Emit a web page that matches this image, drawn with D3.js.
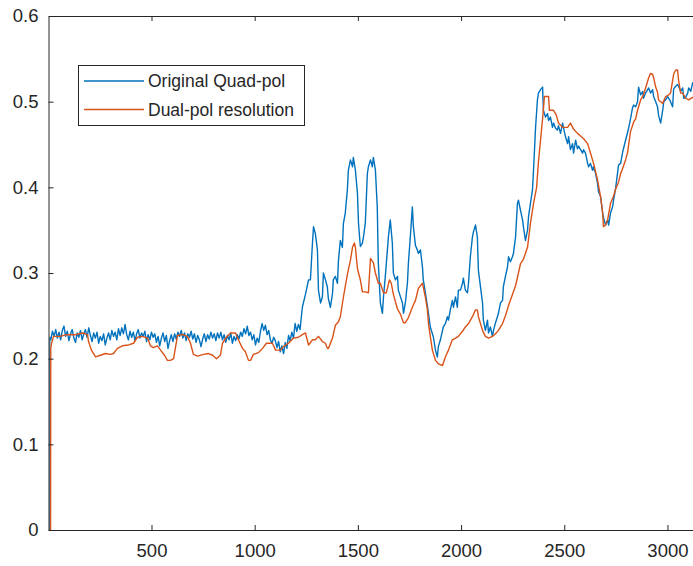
<!DOCTYPE html>
<html>
<head>
<meta charset="utf-8">
<script src="https://cdn.jsdelivr.net/npm/d3@7"></script>
<style>
  body { margin: 0; background: #fff; }
  text { font-family: "Liberation Sans", Arial, Helvetica, sans-serif; fill: #262626; }
</style>
</head>
<body>
<svg id="chart" width="693" height="566"></svg>
<script>
// series names
const seriesNames = ["Original Quad-pol", "Dual-pol resolution"];
const xTicks = [500, 1000, 1500, 2000, 2500, 3000];
const yTicks = [0, 0.1, 0.2, 0.3, 0.4, 0.5, 0.6];

// Original Quad-pol (blue)
const quadX = [6, 7,
  12, 20, 28, 36, 44, 52, 60, 68, 76, 84,
  92, 100, 108, 116, 124, 132, 140, 148, 156, 164,
  172, 180, 188, 196, 204, 212, 220, 228, 236, 244,
  252, 260, 268, 276, 284, 292, 300, 308, 316, 324,
  332, 340, 348, 356, 364, 372, 380, 388, 396, 404,
  412, 420, 428, 436, 444, 452, 460, 468, 476, 484,
  492, 500, 508, 516, 524, 532, 540, 548, 556, 564,
  572, 580, 588, 596, 604, 612, 620, 628, 636, 644,
  652, 660, 668, 676, 684, 692, 700, 708, 716, 724,
  732, 740, 748, 756, 764, 772, 780, 788, 796, 804,
  812, 820, 828, 836, 844, 852, 860, 868, 876, 884,
  892, 900, 908, 916, 924, 932, 940, 948, 956, 964,
  972, 980, 988, 996, 1004, 1012, 1020, 1028, 1036, 1044,
  1052, 1060, 1068, 1076, 1084, 1092, 1100, 1108, 1116, 1124,
  1132, 1140, 1148, 1156, 1164, 1172, 1180, 1188, 1196, 1204,
  1212, 1220,
  1231, 1246, 1261, 1270, 1280, 1285, 1294, 1304, 1309, 1319, 1328, 1333, 1343, 1352, 1357, 1367, 1377, 1381, 1391, 1401, 1406, 1415, 1425, 1430, 1439, 1449, 1454, 1464, 1474, 1478, 1488, 1498, 1503, 1512, 1522, 1527, 1536, 1546, 1551, 1561, 1570, 1575, 1585, 1594, 1599, 1609, 1619, 1624, 1633, 1643, 1648, 1657, 1667, 1672, 1682, 1692, 1696, 1716, 1721, 1730, 1740, 1745, 1754, 1764, 1769, 1779, 1788, 1793, 1803, 1813, 1817, 1827, 1842, 1851, 1866, 1876, 1885, 1890, 1900, 1910, 1914, 1924, 1934, 1939, 1948, 1958, 1963, 1973, 1982, 1987, 1997, 2007, 2011, 2021, 2031, 2036, 2045, 2055, 2060, 2070, 2079, 2084, 2094, 2104, 2108, 2118, 2128, 2133, 2142, 2152, 2157, 2167, 2176, 2181, 2191, 2201, 2205, 2215, 2225, 2230, 2239, 2249, 2254, 2264, 2273, 2278, 2288, 2298, 2302, 2312, 2322, 2327, 2336, 2346, 2351, 2361, 2370, 2375, 2385, 2395, 2399, 2409, 2419, 2424, 2433, 2443, 2448, 2458, 2467, 2472, 2482, 2492, 2496, 2506, 2516, 2521, 2530, 2540, 2545, 2555, 2564, 2569, 2579, 2589, 2593, 2603, 2613, 2618, 2627, 2637, 2642, 2652, 2661, 2666, 2676, 2686, 2690, 2700, 2710, 2715, 2724, 2734, 2739, 2749, 2763, 2773, 2783, 2797, 2812, 2821, 2831, 2836, 2846, 2855, 2860, 2870, 2880, 2884, 2894, 2904, 2909, 2918, 2928, 2933, 2943, 2952, 2957, 2967, 2977, 2982, 2991, 3001, 3006, 3015, 3025, 3030, 3040, 3049, 3054, 3064, 3074, 3079, 3088, 3098, 3103, 3113, 3122, 3150, 3180];
const quadY = [0, 0.225,
  0.222, 0.232, 0.226, 0.234, 0.224, 0.231, 0.222, 0.233, 0.238, 0.226,
  0.232, 0.221, 0.229, 0.234, 0.224, 0.219, 0.23, 0.225, 0.233, 0.222,
  0.229, 0.234, 0.225, 0.236, 0.227, 0.22, 0.23, 0.224, 0.231, 0.218,
  0.226, 0.221, 0.229, 0.216, 0.224, 0.23, 0.222, 0.233, 0.226, 0.231,
  0.222, 0.235, 0.227, 0.236, 0.229, 0.24, 0.228, 0.222, 0.232, 0.225,
  0.231, 0.221, 0.229, 0.234, 0.224, 0.23, 0.226, 0.232, 0.22, 0.228,
  0.222, 0.231, 0.225, 0.229, 0.219, 0.226, 0.215, 0.224, 0.23, 0.22,
  0.227, 0.212, 0.221, 0.228, 0.22, 0.229, 0.223, 0.231, 0.226, 0.233,
  0.224, 0.23, 0.221, 0.229, 0.225, 0.232, 0.223, 0.229, 0.219, 0.227,
  0.222, 0.214, 0.223, 0.229, 0.22, 0.228, 0.223, 0.231, 0.224, 0.229,
  0.221, 0.23, 0.224, 0.231, 0.222, 0.228, 0.219, 0.227, 0.222, 0.23,
  0.218, 0.226, 0.221, 0.228, 0.223, 0.231, 0.226, 0.235, 0.229, 0.238,
  0.227, 0.231, 0.222, 0.228, 0.216, 0.224, 0.219, 0.232, 0.241, 0.233,
  0.239, 0.228, 0.233, 0.222, 0.218, 0.225, 0.221, 0.213, 0.22, 0.208,
  0.215, 0.206, 0.219, 0.212, 0.227, 0.221, 0.231, 0.224, 0.241, 0.232,
  0.24, 0.234,
  0.26, 0.275, 0.292, 0.292, 0.335, 0.354, 0.346, 0.327, 0.28, 0.265, 0.272, 0.3, 0.292, 0.284, 0.27, 0.26, 0.276, 0.292, 0.296, 0.288, 0.315, 0.338, 0.33, 0.358, 0.37, 0.397, 0.42, 0.432, 0.424, 0.435, 0.42, 0.393, 0.358, 0.331, 0.335, 0.342, 0.358, 0.416, 0.424, 0.432, 0.424, 0.435, 0.42, 0.377, 0.312, 0.265, 0.253, 0.272, 0.296, 0.327, 0.342, 0.362, 0.335, 0.3, 0.292, 0.296, 0.28, 0.265, 0.253, 0.265, 0.288, 0.312, 0.342, 0.377, 0.354, 0.332, 0.327, 0.323, 0.327, 0.307, 0.292, 0.277, 0.253, 0.237, 0.225, 0.21, 0.202, 0.214, 0.222, 0.233, 0.237, 0.241, 0.249, 0.245, 0.257, 0.268, 0.26, 0.272, 0.26, 0.28, 0.28, 0.288, 0.294, 0.28, 0.277, 0.288, 0.319, 0.342, 0.348, 0.356, 0.342, 0.303, 0.284, 0.265, 0.245, 0.233, 0.245, 0.23, 0.237, 0.226, 0.233, 0.242, 0.249, 0.253, 0.265, 0.268, 0.284, 0.296, 0.307, 0.319, 0.313, 0.319, 0.323, 0.342, 0.381, 0.385, 0.373, 0.362, 0.354, 0.338, 0.35, 0.366, 0.381, 0.397, 0.42, 0.47, 0.502, 0.51, 0.514, 0.517, 0.49, 0.482, 0.486, 0.478, 0.482, 0.47, 0.475, 0.469, 0.467, 0.472, 0.463, 0.475, 0.47, 0.459, 0.451, 0.459, 0.444, 0.451, 0.44, 0.455, 0.445, 0.448, 0.444, 0.44, 0.444, 0.44, 0.428, 0.424, 0.428, 0.42, 0.424, 0.416, 0.405, 0.395, 0.389, 0.37, 0.365, 0.356, 0.362, 0.356, 0.37, 0.377, 0.385, 0.399, 0.426, 0.428, 0.441, 0.455, 0.469, 0.48, 0.493, 0.496, 0.494, 0.5, 0.517, 0.508, 0.512, 0.504, 0.51, 0.514, 0.516, 0.51, 0.514, 0.506, 0.5, 0.494, 0.484, 0.475, 0.49, 0.5, 0.502, 0.506, 0.504, 0.5, 0.494, 0.515, 0.518, 0.52, 0.518, 0.512, 0.516, 0.504, 0.505, 0.51, 0.516, 0.512, 0.522, 0.512, 0.515];

// Dual-pol resolution (orange)
const dualX = [11, 12, 16, 25, 59, 88, 132, 166, 190, 195, 209, 229, 253, 277, 301, 316, 335, 359, 389, 413, 432, 456, 481, 495, 509, 529, 544, 563, 577, 592, 607, 626, 650, 674, 689, 703, 723, 752, 776, 796, 815, 834, 844, 863, 883, 907, 921, 941, 955, 970, 980, 994, 1018, 1038, 1057, 1086, 1101, 1125, 1139, 1164, 1188, 1212, 1231, 1246, 1261, 1280, 1294, 1309, 1328, 1343, 1352, 1357, 1377, 1391, 1406, 1415, 1430, 1449, 1464, 1474, 1483, 1488, 1498, 1512, 1522, 1536, 1551, 1561, 1575, 1585, 1599, 1609, 1624, 1638, 1653, 1662, 1672, 1692, 1706, 1721, 1730, 1745, 1764, 1779, 1793, 1813, 1827, 1837, 1842, 1851, 1861, 1876, 1890, 1910, 1924, 1939, 1958, 1973, 1987, 2007, 2021, 2036, 2055, 2070, 2079, 2084, 2104, 2118, 2133, 2152, 2167, 2181, 2201, 2215, 2230, 2249, 2264, 2278, 2288, 2302, 2322, 2336, 2351, 2366, 2375, 2385, 2395, 2404, 2424, 2428, 2448, 2462, 2472, 2492, 2516, 2530, 2545, 2564, 2579, 2593, 2613, 2627, 2642, 2661, 2676, 2686, 2690, 2700, 2710, 2724, 2739, 2749, 2763, 2773, 2783, 2797, 2807, 2821, 2836, 2846, 2855, 2870, 2884, 2894, 2909, 2918, 2928, 2933, 2943, 2952, 2957, 2967, 2977, 2991, 3006, 3015, 3030, 3040, 3049, 3054, 3064, 3074, 3088, 3103, 3122, 3150, 3180];
const dualY = [0, 0.212, 0.218, 0.226, 0.226, 0.228, 0.228, 0.23, 0.228, 0.22, 0.21, 0.202, 0.204, 0.206, 0.205, 0.206, 0.212, 0.215, 0.216, 0.218, 0.225, 0.226, 0.224, 0.215, 0.213, 0.215, 0.21, 0.204, 0.198, 0.198, 0.2, 0.227, 0.228, 0.226, 0.218, 0.205, 0.203, 0.205, 0.206, 0.204, 0.2, 0.204, 0.218, 0.225, 0.23, 0.23, 0.222, 0.212, 0.208, 0.198, 0.198, 0.205, 0.207, 0.212, 0.218, 0.218, 0.21, 0.21, 0.214, 0.218, 0.224, 0.225, 0.228, 0.23, 0.216, 0.222, 0.222, 0.226, 0.22, 0.218, 0.212, 0.212, 0.224, 0.239, 0.243, 0.249, 0.272, 0.298, 0.315, 0.33, 0.335, 0.33, 0.305, 0.292, 0.278, 0.278, 0.277, 0.317, 0.312, 0.3, 0.288, 0.288, 0.277, 0.277, 0.292, 0.288, 0.275, 0.258, 0.252, 0.242, 0.242, 0.248, 0.26, 0.268, 0.282, 0.288, 0.272, 0.257, 0.241, 0.226, 0.21, 0.198, 0.194, 0.192, 0.202, 0.21, 0.222, 0.224, 0.226, 0.232, 0.237, 0.241, 0.249, 0.257, 0.257, 0.249, 0.233, 0.226, 0.224, 0.226, 0.229, 0.233, 0.241, 0.25, 0.262, 0.275, 0.285, 0.3, 0.311, 0.316, 0.33, 0.358, 0.381, 0.4, 0.43, 0.455, 0.48, 0.506, 0.506, 0.49, 0.49, 0.484, 0.475, 0.47, 0.47, 0.475, 0.468, 0.463, 0.46, 0.457, 0.451, 0.44, 0.428, 0.409, 0.389, 0.37, 0.354, 0.356, 0.362, 0.381, 0.39, 0.398, 0.406, 0.416, 0.422, 0.432, 0.441, 0.465, 0.476, 0.48, 0.49, 0.502, 0.508, 0.516, 0.528, 0.533, 0.532, 0.528, 0.517, 0.511, 0.502, 0.5, 0.498, 0.506, 0.508, 0.51, 0.532, 0.537, 0.537, 0.525, 0.51, 0.51, 0.504, 0.502, 0.505, 0.505, 0.51];

const colors = ["#0072BD", "#D95319"];

const svg = d3.select("#chart");
const plotLeft = 48.5, plotRight = 704.6, plotTop = 16, plotBottom = 530;

const x = d3.scaleLinear().domain([1, 3180]).range([plotLeft, plotRight]);
const y = d3.scaleLinear().domain([0, 0.6]).range([plotBottom, plotTop]);

svg.append("clipPath").attr("id", "clip")
  .append("rect").attr("x", plotLeft).attr("y", plotTop)
  .attr("width", plotRight - plotLeft).attr("height", plotBottom - plotTop);

const line = d3.line()
  .defined(d => d[1] !== undefined && d[0] !== undefined)
  .x(d => x(d[0])).y(d => y(d[1]));

const quad = quadX.map((v, i) => [v, quadY[i]]);
const dual = dualX.map((v, i) => [v, dualY[i]]);

const plot = svg.append("g").attr("clip-path", "url(#clip)");
[quad, dual].forEach((s, i) => {
  plot.append("path").datum(s)
    .attr("d", line)
    .attr("fill", "none")
    .attr("stroke", colors[i])
    .attr("stroke-width", 1.4)
    .attr("stroke-linejoin", "round");
});

// axes, matlab style with ticks inside
const axBottom = svg.append("g").attr("transform", `translate(0,${plotBottom})`)
  .call(d3.axisBottom(x).tickValues(xTicks).tickSizeInner(-5).tickSizeOuter(0).tickPadding(14).tickFormat(d3.format("d")));
const axTop = svg.append("g").attr("transform", `translate(0,${plotTop})`)
  .call(d3.axisTop(x).tickValues(xTicks).tickSizeInner(-5).tickSizeOuter(0).tickFormat(""));
const axLeft = svg.append("g").attr("transform", `translate(${plotLeft},0)`)
  .call(d3.axisLeft(y).tickValues(yTicks).tickSizeInner(-5).tickSizeOuter(0).tickPadding(10).tickFormat(d3.format("")));

[axBottom, axTop, axLeft].forEach(a => {
  a.select(".domain").attr("stroke", "#262626");
  a.selectAll(".tick line").attr("stroke", "#262626");
  a.selectAll(".tick text").style("font-size", "18.5px").attr("fill", "#262626");
});
axLeft.select(".domain").attr("stroke", "#5a5a5a").attr("stroke-width", 1.3);

// legend
const lg = svg.append("g");
lg.append("rect").attr("x", 78.5).attr("y", 65.5).attr("width", 226).attr("height", 60)
  .attr("fill", "#fff").attr("stroke", "#262626").attr("stroke-width", 1);
seriesNames.forEach((name, i) => {
  const yy = 81 + i * 28.5;
  lg.append("line").attr("x1", 84).attr("x2", 144).attr("y1", yy).attr("y2", yy)
    .attr("stroke", colors[i]).attr("stroke-width", 1.4);
  lg.append("text").attr("x", 148).attr("y", yy).attr("dy", "0.35em")
    .style("font-size", "17.5px").text(name);
});
</script>
</body>
</html>
